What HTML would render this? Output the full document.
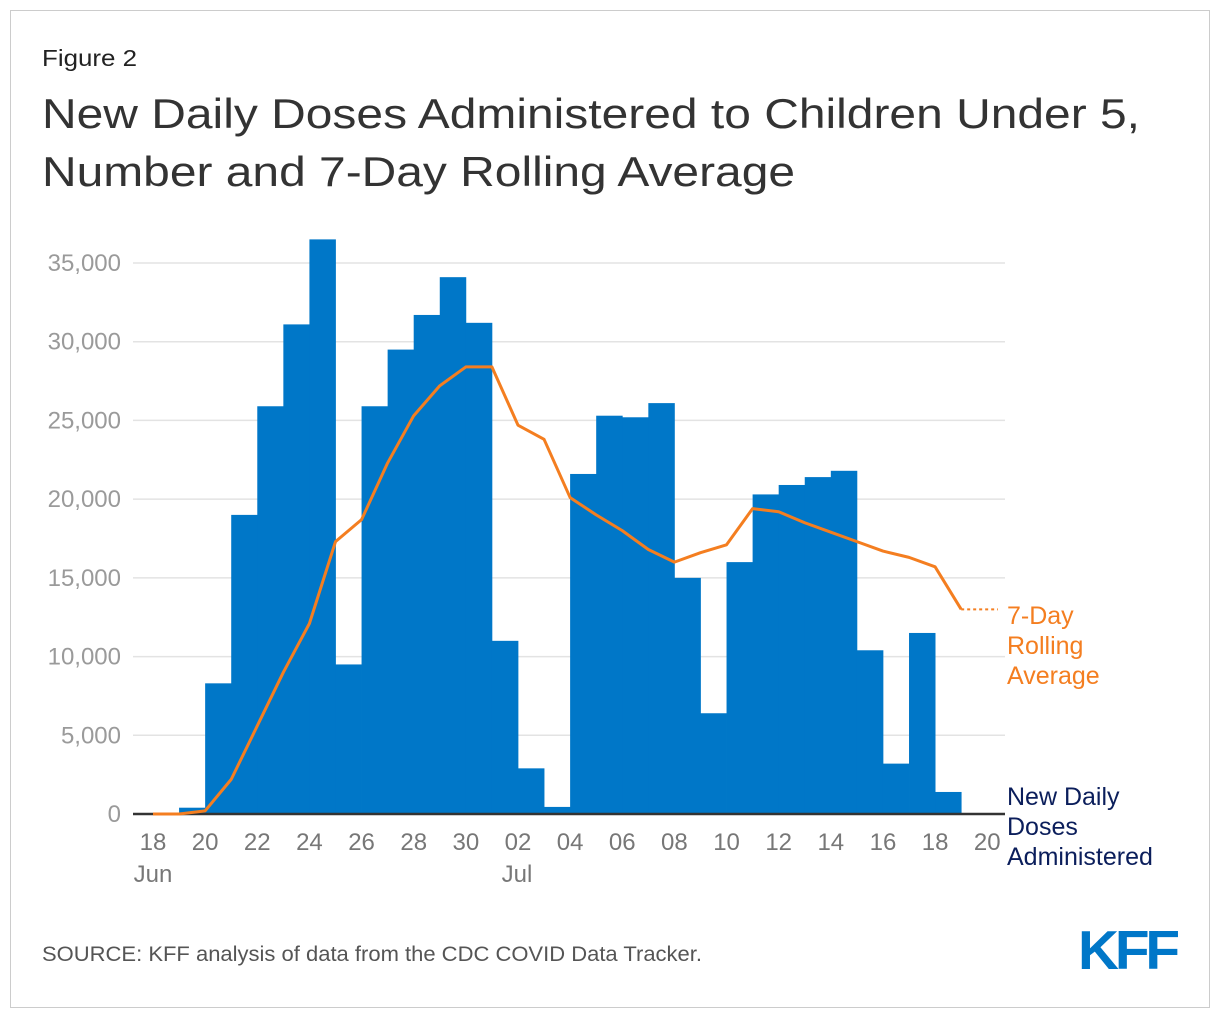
<!DOCTYPE html>
<html><head><meta charset="utf-8"><style>
body{margin:0;background:#fff;font-family:"Liberation Sans",Arial,sans-serif;}
#wrap{position:relative;width:1220px;height:1020px;overflow:hidden;}
</style></head><body>
<div id="wrap">
<svg width="1220" height="1020" id="svg">
<rect x="10.5" y="10.5" width="1199" height="997" fill="none" stroke="#cccccc"/>
<text x="42" y="66" font-size="23" fill="#222" textLength="95" lengthAdjust="spacingAndGlyphs">Figure 2</text>
<text x="42" y="128" font-size="42" fill="#333" textLength="1098" lengthAdjust="spacingAndGlyphs">New Daily Doses Administered to Children Under 5,</text>
<text x="42" y="186" font-size="42" fill="#333" textLength="753" lengthAdjust="spacingAndGlyphs">Number and 7-Day Rolling Average</text>
<g id="grid"></g>
<g id="ylab"></g>
<g id="bars"></g>
<line x1="133" x2="1005" y1="814" y2="814" stroke="#333" stroke-width="2.5"/>
<g id="line"></g>
<g id="xlab"></g>
<text x="153" y="882" font-size="24" fill="#777" text-anchor="middle">Jun</text>
<text x="517" y="882" font-size="24" fill="#777" text-anchor="middle">Jul</text>
<g font-size="25" fill="#f47e20">
<text x="1007" y="624">7-Day</text><text x="1007" y="654">Rolling</text><text x="1007" y="684">Average</text></g>
<g font-size="25" fill="#0b1e5b">
<text x="1007" y="805">New Daily</text><text x="1007" y="835">Doses</text><text x="1007" y="865">Administered</text></g>
<text x="42" y="961" font-size="21" fill="#555" textLength="660" lengthAdjust="spacingAndGlyphs">SOURCE: KFF analysis of data from the CDC COVID Data Tracker.</text>
<text x="1078" y="969" font-size="55" font-weight="bold" fill="#0077c8" letter-spacing="-4" textLength="98" lengthAdjust="spacingAndGlyphs">KFF</text>
</svg>
</div>
<script>
const dayLabels=["18","20","22","24","26","28","30","02","04","06","08","10","12","14","16","18","20"];
const yTicks=[0,5000,10000,15000,20000,25000,30000,35000];
const daily=[0,400,8300,19000,25900,31100,36500,9500,25900,29500,31700,34100,31200,11000,2900,450,21600,25300,25200,26100,15000,6400,16000,20300,20900,21400,21800,10400,3200,11500,1400];
const rolling=[0,0,200,2200,5600,9000,12100,17300,18700,22300,25300,27200,28400,28400,24700,23800,20100,19000,18000,16800,16000,16600,17100,19400,19200,18500,17900,17300,16700,16300,15700,13000];
const NS='http://www.w3.org/2000/svg';
const x0=153,dx=26.07,y0=814,yScale=(814-263)/35000;
const X=i=>x0+i*dx, Y=v=>y0-v*yScale;
function mk(t,a,p){const e=document.createElementNS(NS,t);for(const k in a)e.setAttribute(k,a[k]);p.appendChild(e);return e;}
const g=document.getElementById('grid'),yl=document.getElementById('ylab');
yTicks.forEach(v=>{
 if(v>0){const l=mk('line',{x1:133,x2:1005,y1:Y(v),y2:Y(v),stroke:'#e3e3e3','stroke-width':1.5},g);
 
 }
 const t=mk('text',{x:121,y:Y(v)+8,'font-size':24,fill:'#9a9a9a','text-anchor':'end'},yl);
 t.textContent=v.toLocaleString('en-US');
 
 
});
const b=document.getElementById('bars');
daily.forEach((v,i)=>{
 const r=mk('rect',{x:X(i),y:Y(v),width:dx+0.4,height:y0-Y(v),fill:'#0077c8'},b);
 
 
});
const ln=document.getElementById('line');
const p=mk('polyline',{points:rolling.map((v,i)=>X(i)+','+Y(v)).join(' '),fill:'none',stroke:'#f47e20','stroke-width':3,'stroke-linejoin':'round'},ln);


const last=rolling.length-1;
const d=mk('line',{x1:X(last),x2:998,y1:Y(rolling[last]),y2:Y(rolling[last]),stroke:'#f47e20','stroke-width':2,'stroke-dasharray':'3,3'},ln);


const xl=document.getElementById('xlab');
dayLabels.forEach((s,i)=>{
 const t=mk('text',{x:X(i*2),y:850,'font-size':24,fill:'#777','text-anchor':'middle'},xl);
 t.textContent=s;
 
 
});
</script>
</body></html>
